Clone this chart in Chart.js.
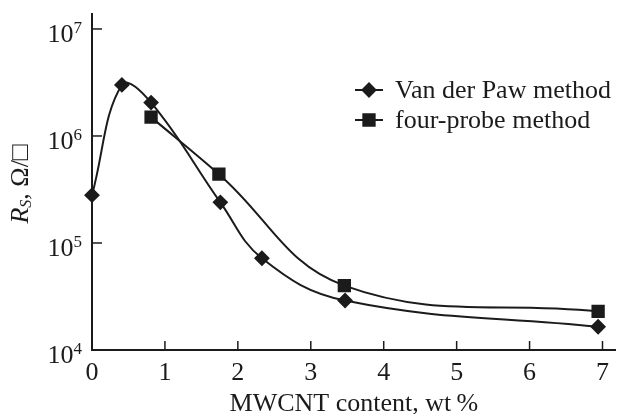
<!DOCTYPE html>
<html>
<head>
<meta charset="utf-8">
<script src="https://cdn.jsdelivr.net/npm/chart.js@4"></script>
<style>
  html, body { margin: 0; padding: 0; background: #fff; }
  #wrap { width: 617px; height: 414px; }
</style>
</head>
<body>
<div id="wrap"><canvas id="chart"></canvas></div>
<script>
// Data
const vdpX = [0, 0.41, 0.81, 1.76, 2.33, 3.47, 6.94];
const vdpY = [2.8e5, 3.0e6, 2.05e6, 2.4e5, 7.2e4, 2.9e4, 1.65e4];
const fpX = [0.81, 1.74, 3.46, 6.94];
const fpY = [1.5e6, 4.4e5, 4.0e4, 2.3e4];
const xTicks = [0, 1, 2, 3, 4, 5, 6, 7];
const yTicks = [1e4, 1e5, 1e6, 1e7];
const yExponents = ['4', '5', '6', '7'];
const seriesNames = ['Van der Paw method', 'four-probe method'];

const ink = '#1b1b1b';
const serif = '"Liberation Serif", "DejaVu Serif", serif';

// inward tick marks, y labels with exponents, axis titles and legend
const decor = {
    id: 'decor',
    afterDraw(chart) {
        const ctx = chart.ctx;
        const x = chart.scales.x, y = chart.scales.y;
        const area = chart.chartArea;
        ctx.save();
        ctx.strokeStyle = ink;
        ctx.fillStyle = ink;
        ctx.lineWidth = 1.5;
        xTicks.forEach(v => {
            if (v === 0) return;
            const px = x.getPixelForValue(v);
            ctx.beginPath();
            ctx.moveTo(px, area.bottom);
            ctx.lineTo(px, area.bottom - 9);
            ctx.stroke();
        });
        yTicks.forEach((v, i) => {
            const py = y.getPixelForValue(v);
            if (v !== 1e4) {
                ctx.beginPath();
                ctx.moveTo(area.left, py);
                ctx.lineTo(area.left + 10, py);
                ctx.stroke();
            }
            // 10 with raised exponent
            ctx.textBaseline = 'alphabetic';
            ctx.textAlign = 'right';
            ctx.font = '17px ' + serif;
            const ex = area.left - 10;
            ctx.fillText(yExponents[i], ex, py + 4);
            const ew = ctx.measureText(yExponents[i]).width;
            ctx.font = '26px ' + serif;
            ctx.fillText('10', ex - ew, py + 13);
        });

        // x title
        ctx.textAlign = 'center';
        ctx.textBaseline = 'alphabetic';
        ctx.font = '26px ' + serif;
        ctx.fillText('MWCNT content, wt\u2009%', (area.left + area.right) / 2, 411);
        ctx.restore();

        // y title: R_S, Ω/□
        ctx.save();
        ctx.translate(21, 184);
        ctx.rotate(-Math.PI / 2);
        ctx.fillStyle = ink;
        ctx.textBaseline = 'middle';
        ctx.textAlign = 'left';
        const parts = [
            { t: 'R', f: 'italic 26px ' + serif, dy: 0 },
            { t: 'S', f: 'italic 16px ' + serif, dy: 6 },
            { t: ', \u03A9/\u25A1', f: '26px ' + serif, dy: 0 }
        ];
        let total = 0;
        parts.forEach(p => { ctx.font = p.f; total += ctx.measureText(p.t).width; });
        let cx = -total / 2;
        parts.forEach(p => {
            ctx.font = p.f;
            ctx.fillText(p.t, cx, p.dy);
            cx += ctx.measureText(p.t).width;
        });
        ctx.restore();

        // legend
        ctx.save();
        const rows = [{ y: 90, style: 'rectRot', r: 6.5 }, { y: 120, style: 'rect', r: 8 }];
        rows.forEach((row, i) => {
            ctx.strokeStyle = ink;
            ctx.lineWidth = 2;
            ctx.beginPath();
            ctx.moveTo(355, row.y);
            ctx.lineTo(383, row.y);
            ctx.stroke();
            ctx.fillStyle = ink;
            Chart.helpers.drawPoint(ctx, { pointStyle: row.style, radius: row.r, borderWidth: 1 }, 369, row.y);
            ctx.font = '26px ' + serif;
            ctx.textBaseline = 'alphabetic';
            ctx.fillText(seriesNames[i], 395, row.y + 8);
        });
        ctx.restore();
    }
};

new Chart(document.getElementById('chart'), {
    type: 'line',
    data: {
        datasets: [
            {
                label: seriesNames[0],
                data: vdpX.map((v, i) => ({ x: v, y: vdpY[i] })),
                borderColor: ink,
                backgroundColor: ink,
                borderWidth: 2,
                pointStyle: 'rectRot',
                pointRadius: 6.5,
                tension: 0.4,
                clip: false
            },
            {
                label: seriesNames[1],
                data: fpX.map((v, i) => ({ x: v, y: fpY[i] })),
                borderColor: ink,
                backgroundColor: ink,
                borderWidth: 2,
                pointStyle: 'rect',
                pointRadius: 8,
                tension: 0.4,
                clip: false
            }
        ]
    },
    options: {
        responsive: true,
        maintainAspectRatio: false,
        animation: false,
        layout: { autoPadding: false, padding: { top: 14, right: 0, left: 0, bottom: 0 } },
        plugins: { legend: { display: false }, tooltip: { enabled: false } },
        scales: {
            x: {
                type: 'linear',
                min: 0,
                max: 7.18,
                afterBuildTicks: s => { s.ticks = xTicks.map(v => ({ value: v })); },
                afterFit: s => { s.height = 64; },
                border: { color: ink, width: 2 },
                grid: { display: false, drawTicks: false },
                ticks: {
                    color: ink,
                    padding: 8,
                    font: { family: serif, size: 26 },
                    maxRotation: 0
                }
            },
            y: {
                type: 'logarithmic',
                min: 1e4,
                max: 1.38e7,
                afterBuildTicks: s => { s.ticks = yTicks.map(v => ({ value: v })); },
                afterFit: s => { s.width = 92; },
                border: { color: ink, width: 2 },
                grid: { display: false, drawTicks: false },
                ticks: { display: false }
            }
        }
    },
    plugins: [decor]
});
</script>
</body>
</html>
